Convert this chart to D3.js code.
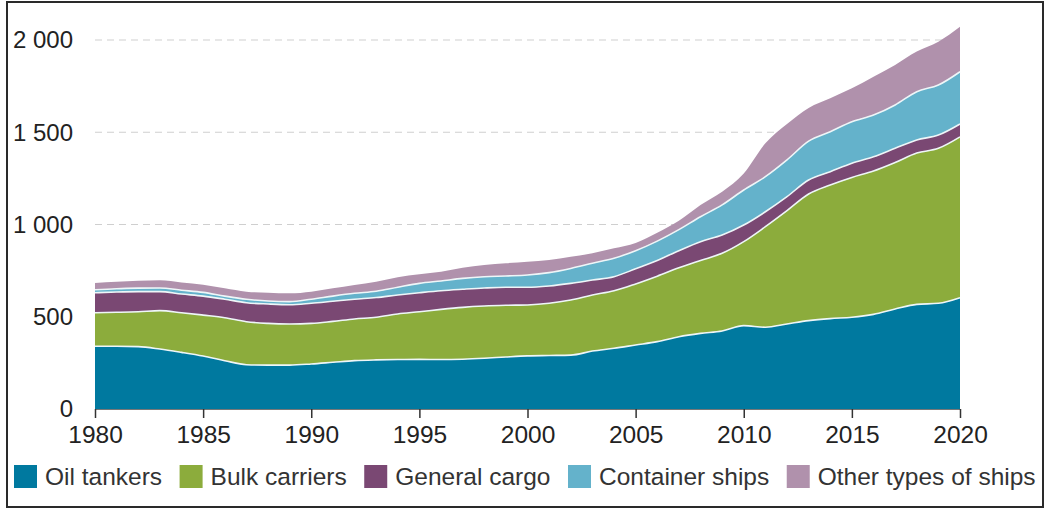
<!DOCTYPE html>
<html>
<head>
<meta charset="utf-8">
<script src="https://cdn.jsdelivr.net/npm/d3@7"></script>
<style>
  html, body { margin: 0; padding: 0; background: #fff; }
  #fleet-chart { width: 1048px; height: 511px; }
  text { font-family: 'Liberation Sans', Arial, sans-serif; }
</style>
</head>
<body>
<div id="fleet-chart"></div>
<script>
// world fleet by ship type, million dwt
const years = d3.range(1980, 2021);
const oilTankers = [340, 340, 338, 325, 307, 287, 262, 240, 238, 238, 244, 253, 262, 266, 268, 269, 268, 270, 275, 282, 288, 290, 292, 314, 329, 347, 365, 392, 410, 423, 452, 443, 461, 479, 490, 497, 513, 542, 567, 573, 603];
const bulkCarriers = [182, 184, 189, 208, 215, 222, 233, 233, 226, 223, 220, 222, 226, 231, 247, 258, 272, 281, 283, 280, 276, 283, 299, 304, 312, 331, 355, 373, 395, 421, 455, 545, 614, 686, 724, 758, 777, 794, 820, 840, 872];
const generalCargo = [108, 110, 109, 103, 101, 103, 100, 103, 105, 104, 109, 109, 107, 107, 103, 103, 101, 98, 98, 98, 96, 94, 90, 81, 76, 82, 85, 93, 102, 99, 90, 81, 76, 76, 72, 77, 77, 77, 71, 72, 70];
const containerShips = [16, 18, 19, 20, 21, 20, 17, 19, 16, 17, 22, 28, 32, 34, 42, 51, 53, 59, 61, 61, 66, 72, 81, 91, 100, 98, 105, 114, 135, 163, 190, 190, 199, 211, 217, 225, 226, 235, 262, 271, 283];
const otherShips = [37, 38, 40, 42, 42, 42, 42, 41, 45, 45, 41, 42, 45, 52, 54, 49, 50, 58, 63, 69, 72, 69, 63, 54, 54, 42, 45, 48, 64, 72, 90, 181, 195, 180, 181, 181, 208, 217, 217, 235, 244];

const seriesNames = ['Oil tankers', 'Bulk carriers', 'General cargo', 'Container ships', 'Other types of ships'];
const seriesColors = ['#00799f', '#8cac3c', '#7a4873', '#64b2cb', '#b091ac'];
const yTicks = [0, 500, 1000, 1500, 2000];
const xTicks = [1980, 1985, 1990, 1995, 2000, 2005, 2010, 2015, 2020];

var fleetChart = function () {
  const width = 1048;
  const height = 511;
  const left = 95, right = 960, top = 40, bottom = 409;

  const seriesValues = [oilTankers, bulkCarriers, generalCargo, containerShips, otherShips];
  const rows = years.map((yr, i) => {
    const row = { year: yr };
    seriesNames.forEach((name, k) => { row[name] = seriesValues[k][i]; });
    return row;
  });

  const stacked = d3.stack().keys(seriesNames)(rows);

  const x = d3.scaleLinear().domain([1980, 2020]).range([left, right]);
  const y = d3.scaleLinear().domain([0, 2000]).range([bottom, top]);

  const svg = d3.select('#fleet-chart')
    .append('svg')
    .attr('width', width)
    .attr('height', height)
    .style('background', '#fff');

  // frame
  svg.append('rect')
    .attr('x', 7)
    .attr('y', 2)
    .attr('width', 1036)
    .attr('height', 505)
    .attr('fill', 'none')
    .attr('stroke', '#2a2a2a')
    .attr('stroke-width', 2);

  // dashed gridlines
  svg.append('g')
    .selectAll('line')
    .data(yTicks.filter(d => d > 0))
    .enter().append('line')
    .attr('x1', left)
    .attr('x2', right)
    .attr('y1', d => y(d))
    .attr('y2', d => y(d))
    .attr('stroke', '#cfcfcf')
    .attr('stroke-width', 1.2)
    .attr('stroke-dasharray', '7,5');

  const area = d3.area()
    .curve(d3.curveMonotoneX)
    .x(d => x(d.data.year))
    .y0(d => y(d[0]))
    .y1(d => y(d[1]));

  const topLine = d3.line()
    .curve(d3.curveMonotoneX)
    .x(d => x(d.data.year))
    .y(d => y(d[1]));

  svg.append('g')
    .selectAll('path')
    .data(stacked)
    .enter().append('path')
    .attr('d', area)
    .attr('fill', (d, i) => seriesColors[i]);

  // thin light separators between the layers
  svg.append('g')
    .selectAll('path')
    .data(stacked.slice(0, 4))
    .enter().append('path')
    .attr('d', topLine)
    .attr('fill', 'none')
    .attr('stroke', '#eef6f8')
    .attr('stroke-width', 1.6);

  // x axis
  const xAxis = svg.append('g')
    .attr('transform', `translate(0, ${bottom})`)
    .call(d3.axisBottom(x).tickValues(xTicks).tickFormat(d3.format('d')).tickSize(9).tickPadding(8));
  xAxis.select('.domain').attr('stroke', '#777').attr('stroke-width', 1);
  xAxis.selectAll('.tick line').attr('stroke', '#333').attr('stroke-width', 1.5);
  xAxis.selectAll('.tick text')
    .attr('font-size', 24.5)
    .attr('font-family', "'Liberation Sans', Arial, sans-serif")
    .attr('fill', '#222');

  // y labels
  svg.append('g')
    .selectAll('text')
    .data(yTicks)
    .enter().append('text')
    .attr('x', 73)
    .attr('y', d => y(d))
    .attr('dy', '0.35em')
    .attr('text-anchor', 'end')
    .attr('font-size', 24)
    .attr('fill', '#222')
    .text(d => d3.format(',')(d).replace(',', ' '));

  // legend
  const legend = svg.append('g')
    .attr('class', 'legend')
    .attr('transform', 'translate(14, 465)');

  let cursor = 0;
  seriesNames.forEach((name, i) => {
    legend.append('rect')
      .attr('x', cursor)
      .attr('y', 0)
      .attr('width', 23)
      .attr('height', 23)
      .attr('fill', seriesColors[i]);
    const t = legend.append('text')
      .attr('x', cursor + 31)
      .attr('y', 20)
      .attr('font-size', 24.5)
      .attr('fill', '#333')
      .text(name);
    cursor += 31 + t.node().getComputedTextLength() + 17.5;
  });
};

fleetChart();
</script>
</body>
</html>
